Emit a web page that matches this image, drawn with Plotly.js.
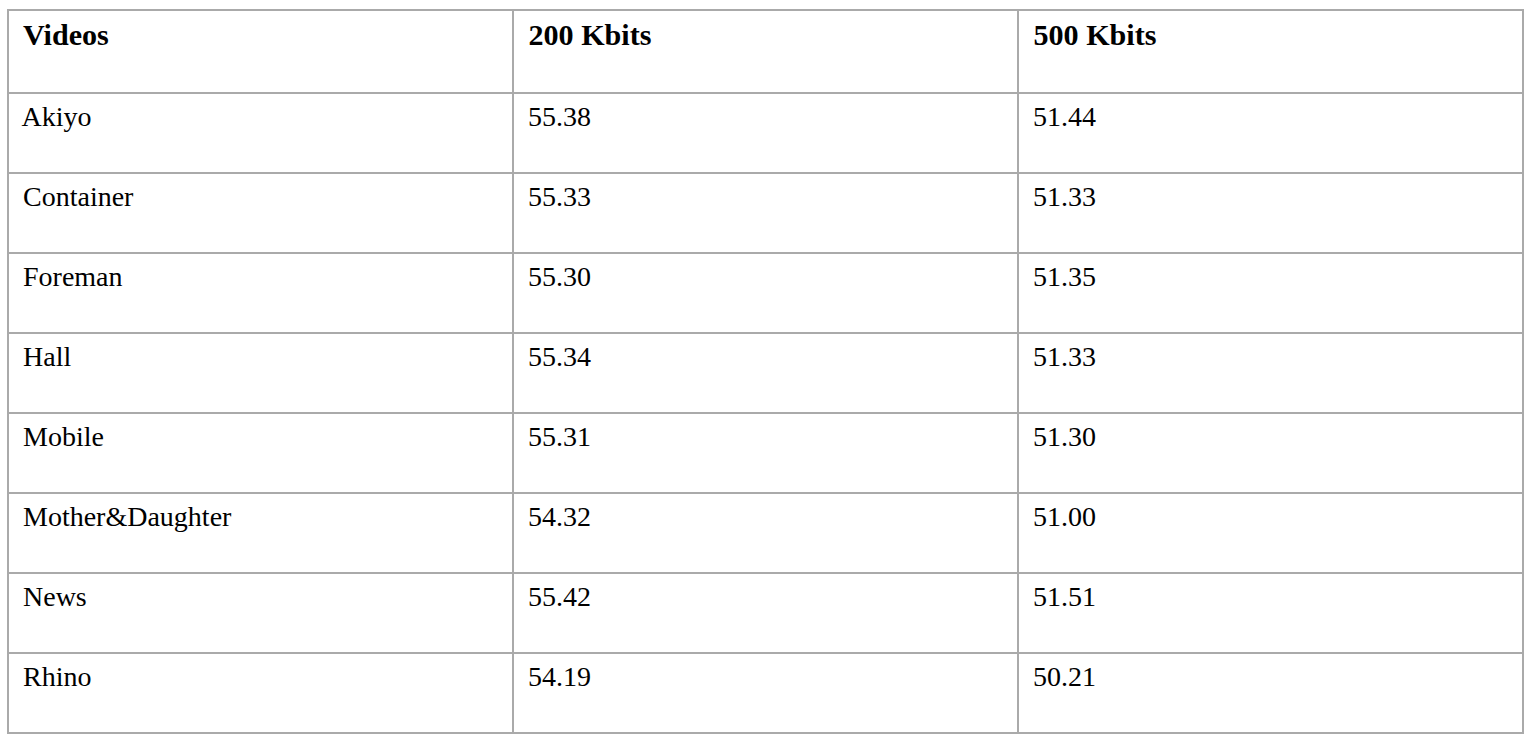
<!DOCTYPE html>
<html>
<head>
<meta charset="utf-8">
<script src="https://cdn.plot.ly/plotly-3.0.1.min.js"></script>
<style>html,body{margin:0;padding:0;background:#fff;}</style>
</head>
<body>
<div id="chart" style="width:1533px;height:741px;"></div>
<script>
const headers = ['Videos', '200 Kbits', '500 Kbits'];
const videos = ['Akiyo', 'Container', 'Foreman', 'Hall', 'Mobile', 'Mother&Daughter', 'News', 'Rhino'];
const kbits200 = ['55.38', '55.33', '55.30', '55.34', '55.31', '54.32', '55.42', '54.19'];
const kbits500 = ['51.44', '51.33', '51.35', '51.33', '51.30', '51.00', '51.51', '50.21'];

// <sub> shrinks the text to 70% and drops it, which centres it in the row
const cell = s => '<sub> ' + s + '</sub>';

const trace = {
    type: 'table',
    columnwidth: [1, 1, 1],
    header: {
        values: headers.map(h => '<b>' + cell(h) + '</b>'),
        align: 'left',
        height: 83,
        line: {color: '#aaaaaa', width: 2},
        fill: {color: '#ffffff'},
        font: {family: 'Liberation Serif', size: 43, color: '#000'}
    },
    cells: {
        values: [videos.map(cell), kbits200.map(cell), kbits500.map(cell)],
        align: 'left',
        height: 80,
        line: {color: '#aaaaaa', width: 2},
        fill: {color: '#ffffff'},
        font: {family: 'Liberation Serif', size: 40, color: '#000'}
    },
    domain: {x: [8 / 1533, 1523 / 1533], y: [0, 1 - 10 / 741]}
};

const layout = {
    width: 1533, height: 741,
    margin: {t: 0, l: 0, r: 0, b: 0},
    paper_bgcolor: '#ffffff'
};

Plotly.newPlot('chart', [trace], layout, {displayModeBar: false});
</script>
</body>
</html>
